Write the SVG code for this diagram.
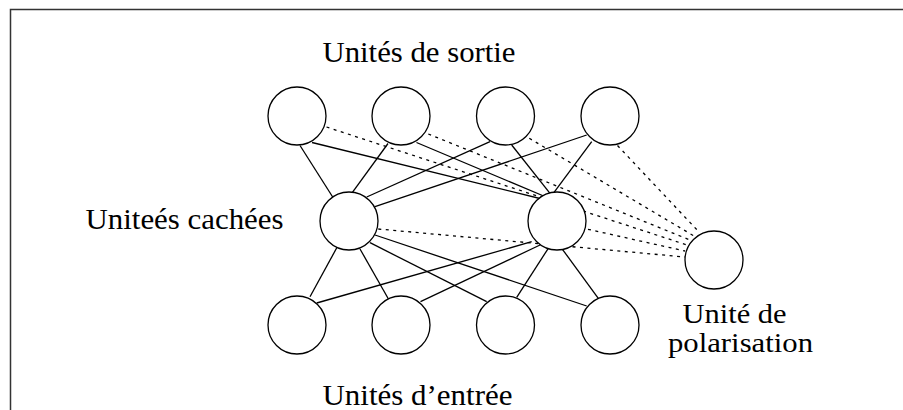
<svg xmlns="http://www.w3.org/2000/svg" width="903" height="410" viewBox="0 0 903 410">
<style>
.node{fill:#fff;stroke:#000;stroke-width:1.3}
.solid{stroke:#000;stroke-width:1.3;fill:none}
.dot{stroke:#000;stroke-width:1.3;fill:none;stroke-dasharray:3 4.5}
.lbl{font-family:'Liberation Serif',Tinos,'Times New Roman',serif;font-size:30px;fill:#000}
.lbl2{font-family:'Liberation Serif',Tinos,'Times New Roman',serif;font-size:28px;fill:#000}
.frame{stroke:#333;stroke-width:1.5;fill:none}
</style>
<rect width="903" height="410" fill="#fff"/>
<path class="frame" d="M10.5,410 V9.5 H903"/>
<g id="connectors">
<line class="solid" x1="300" y1="145.5" x2="332.7" y2="197"/>
<line class="solid" x1="312" y1="142.5" x2="546" y2="200"/>
<line class="solid" x1="388" y1="143.5" x2="351.7" y2="193.3"/>
<line class="solid" x1="416.5" y1="142.5" x2="546" y2="197"/>
<line class="solid" x1="490" y1="141.7" x2="366.7" y2="197"/>
<line class="solid" x1="511.7" y1="145" x2="550" y2="193.3"/>
<line class="solid" x1="586.7" y1="135" x2="375" y2="206.7"/>
<line class="solid" x1="591.7" y1="141.7" x2="553.3" y2="193.3"/>
<line class="solid" x1="338.3" y1="245" x2="310" y2="296.7"/>
<line class="solid" x1="360" y1="249" x2="390" y2="301.7"/>
<line class="solid" x1="370" y1="242.7" x2="486.7" y2="301.7"/>
<line class="solid" x1="375" y1="235" x2="586.7" y2="306"/>
<line class="solid" x1="531.7" y1="241.7" x2="316.7" y2="303"/>
<line class="solid" x1="540" y1="245" x2="420.5" y2="301.7"/>
<line class="solid" x1="548.3" y1="248.3" x2="516.7" y2="297.3"/>
<line class="solid" x1="561.7" y1="248.3" x2="598.3" y2="298.3"/>
<line class="dot" x1="326.5" y1="127" x2="687" y2="245"/>
<line class="dot" x1="428.3" y1="134" x2="690" y2="240"/>
<line class="dot" x1="529.3" y1="138.3" x2="694" y2="236"/>
<line class="dot" x1="617.5" y1="145.5" x2="699" y2="232"/>
<line class="dot" x1="588" y1="229.3" x2="685" y2="251"/>
<line class="dot" x1="378.3" y1="229" x2="685" y2="257"/>
</g>
<g id="out1"><circle class="node" cx="297" cy="116" r="29"/></g>
<g id="out2"><circle class="node" cx="401" cy="116" r="29"/></g>
<g id="out3"><circle class="node" cx="505.5" cy="116" r="29"/></g>
<g id="out4"><circle class="node" cx="610" cy="116" r="29"/></g>
<g id="hid1"><circle class="node" cx="349" cy="221" r="29"/></g>
<g id="hid2"><circle class="node" cx="557" cy="221" r="29"/></g>
<g id="in1"><circle class="node" cx="297" cy="325" r="29"/></g>
<g id="in2"><circle class="node" cx="401" cy="325" r="29"/></g>
<g id="in3"><circle class="node" cx="505.5" cy="325" r="29"/></g>
<g id="in4"><circle class="node" cx="610" cy="325" r="29"/></g>
<g id="bias"><circle class="node" cx="714" cy="260" r="29"/></g>
<g id="labels" font-family="Liberation Serif, serif">
<text class="lbl" x="322.5" y="62" textLength="193" lengthAdjust="spacingAndGlyphs">Unités de sortie</text>
<text class="lbl" x="85.5" y="229" textLength="198" lengthAdjust="spacingAndGlyphs">Uniteés cachées</text>
<text class="lbl2" x="682.5" y="323" textLength="104" lengthAdjust="spacingAndGlyphs">Unité de</text>
<text class="lbl2" x="668" y="352" textLength="145" lengthAdjust="spacingAndGlyphs">polarisation</text>
<text class="lbl" x="322.5" y="405" textLength="190" lengthAdjust="spacingAndGlyphs">Unités d’entrée</text>
</g>
</svg>
